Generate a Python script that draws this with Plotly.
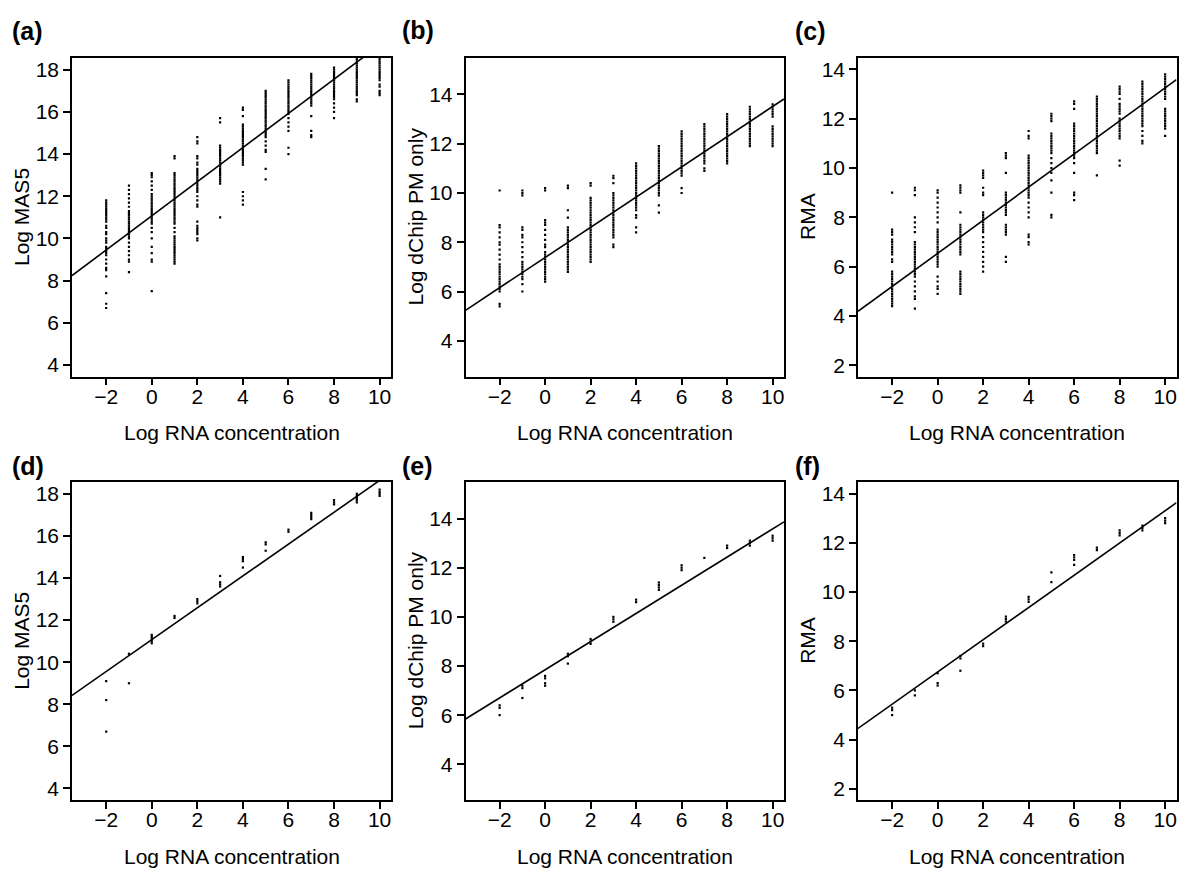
import plotly.graph_objects as go

# ---------------- data ----------------
conc = [-2, -1, 0, 1, 2, 3, 4, 5, 6, 7, 8, 9, 10]

# (a) all probe sets, Log MAS5
mas5_all = [
    [11.8, 11.7, 11.6, 11.5, 11.4, 11.3, 11.2, 11.1, 11.0, 10.9, 10.8, 10.6, 10.5, 10.3, 10.2, 10.0, 9.9, 9.8, 9.6, 9.5, 9.4, 9.3, 9.2, 9.0, 8.8, 8.6, 8.5, 8.2, 7.4, 6.9, 6.7],
    [12.5, 12.3, 12.1, 11.9, 11.7, 11.5, 11.3, 11.2, 11.1, 11.0, 10.9, 10.8, 10.7, 10.6, 10.5, 10.4, 10.3, 10.2, 10.1, 10.0, 9.8, 9.6, 9.4, 9.2, 9.0, 8.9, 8.4],
    [13.1, 13.0, 12.9, 12.7, 12.5, 12.3, 12.1, 12.0, 11.9, 11.8, 11.7, 11.6, 11.5, 11.4, 11.3, 11.2, 11.1, 11.0, 10.9, 10.8, 10.7, 10.5, 10.3, 10.0, 9.6, 9.3, 9.0, 8.9, 7.5],
    [13.9, 13.8, 13.1, 13.0, 12.9, 12.8, 12.7, 12.6, 12.5, 12.4, 12.3, 12.2, 12.1, 12.0, 11.9, 11.8, 11.7, 11.6, 11.5, 11.4, 11.3, 11.2, 11.1, 11.0, 10.9, 10.8, 10.7, 10.5, 10.3, 10.1, 10.0, 9.9, 9.8, 9.7, 9.6, 9.5, 9.4, 9.3, 9.2, 9.1, 9.0, 8.9, 8.8],
    [14.8, 14.6, 14.5, 13.9, 13.8, 13.6, 13.5, 13.3, 13.2, 13.1, 13.0, 12.9, 12.8, 12.7, 12.6, 12.5, 12.4, 12.3, 12.2, 12.0, 11.8, 11.6, 11.5, 10.8, 10.6, 10.5, 10.4, 10.3, 10.2, 10.0, 9.9],
    [15.7, 15.5, 14.4, 14.3, 14.2, 14.1, 14.0, 13.9, 13.8, 13.7, 13.6, 13.5, 13.4, 13.3, 13.2, 13.1, 13.0, 12.9, 12.8, 12.7, 12.6, 11.0],
    [16.2, 16.1, 15.8, 15.4, 15.3, 15.2, 15.1, 15.0, 14.9, 14.8, 14.7, 14.6, 14.5, 14.4, 14.3, 14.2, 14.1, 14.0, 13.9, 13.8, 13.7, 13.6, 13.5, 12.2, 12.0, 11.8, 11.6],
    [17.0, 16.9, 16.8, 16.7, 16.6, 16.5, 16.4, 16.3, 16.2, 16.1, 16.0, 15.9, 15.8, 15.7, 15.6, 15.5, 15.4, 15.3, 15.2, 15.1, 15.0, 14.9, 14.8, 14.6, 14.4, 14.2, 14.1, 13.3, 12.8],
    [17.5, 17.4, 17.3, 17.2, 17.1, 17.0, 16.9, 16.8, 16.7, 16.6, 16.5, 16.4, 16.3, 16.2, 16.1, 16.0, 15.9, 15.7, 15.5, 15.3, 15.1, 14.3, 14.0],
    [17.8, 17.7, 17.6, 17.5, 17.4, 17.3, 17.2, 17.1, 17.0, 16.9, 16.8, 16.7, 16.6, 16.5, 16.4, 16.3, 15.8, 15.1, 14.9, 14.8],
    [18.1, 18.0, 17.9, 17.8, 17.7, 17.6, 17.5, 17.4, 17.3, 17.2, 17.1, 17.0, 16.9, 16.8, 16.7, 16.6, 16.4, 16.2, 16.0, 15.7],
    [18.5, 18.4, 18.3, 18.2, 18.1, 18.0, 17.9, 17.8, 17.7, 17.6, 17.5, 17.4, 17.3, 17.2, 17.1, 17.0, 16.9, 16.8, 16.6, 16.5],
    [18.5, 18.4, 18.3, 18.2, 18.1, 18.0, 17.9, 17.8, 17.7, 17.6, 17.5, 17.3, 17.2, 17.0, 16.9, 16.8],
]

# (b) all probe sets, Log dChip PM only
dchip_all = [
    [10.1, 8.7, 8.6, 8.4, 8.2, 8.0, 7.9, 7.7, 7.5, 7.3, 7.1, 7.0, 6.9, 6.8, 6.7, 6.6, 6.5, 6.4, 6.3, 6.2, 6.1, 6.0, 5.5, 5.4],
    [10.1, 10.0, 9.9, 8.6, 8.5, 8.3, 8.2, 8.0, 7.8, 7.6, 7.4, 7.2, 7.1, 7.0, 6.9, 6.8, 6.7, 6.6, 6.5, 6.3, 6.0],
    [10.2, 10.1, 8.9, 8.8, 8.7, 8.5, 8.3, 8.1, 7.9, 7.8, 7.6, 7.5, 7.4, 7.3, 7.2, 7.1, 7.0, 6.9, 6.8, 6.7, 6.6, 6.5, 6.4],
    [10.3, 10.2, 9.3, 9.0, 8.6, 8.5, 8.4, 8.3, 8.2, 8.1, 8.0, 7.9, 7.8, 7.7, 7.6, 7.5, 7.4, 7.3, 7.2, 7.1, 7.0, 6.9, 6.8],
    [10.4, 10.3, 9.8, 9.7, 9.6, 9.5, 9.4, 9.3, 9.2, 9.1, 9.0, 8.9, 8.8, 8.7, 8.6, 8.5, 8.4, 8.3, 8.2, 8.1, 8.0, 7.9, 7.8, 7.7, 7.6, 7.5, 7.4, 7.3, 7.2],
    [10.7, 10.6, 10.4, 10.0, 9.9, 9.8, 9.7, 9.6, 9.5, 9.4, 9.3, 9.2, 9.1, 9.0, 8.9, 8.8, 8.7, 8.6, 8.5, 8.4, 8.3, 8.2, 7.9, 7.8],
    [11.2, 11.1, 11.0, 10.9, 10.8, 10.7, 10.6, 10.5, 10.4, 10.3, 10.2, 10.1, 10.0, 9.9, 9.8, 9.7, 9.6, 9.5, 9.4, 9.3, 9.1, 9.0, 8.6, 8.4],
    [11.9, 11.8, 11.7, 11.6, 11.5, 11.4, 11.3, 11.2, 11.1, 11.0, 10.9, 10.8, 10.7, 10.6, 10.5, 10.4, 10.3, 10.2, 10.1, 10.0, 9.9, 9.5, 9.2],
    [12.5, 12.4, 12.3, 12.2, 12.1, 12.0, 11.9, 11.8, 11.7, 11.6, 11.5, 11.4, 11.3, 11.2, 11.1, 11.0, 10.9, 10.8, 10.7, 10.2, 10.0],
    [12.8, 12.7, 12.6, 12.5, 12.4, 12.3, 12.2, 12.1, 12.0, 11.9, 11.8, 11.7, 11.6, 11.5, 11.4, 11.3, 11.2, 11.0, 10.9],
    [13.2, 13.1, 13.0, 12.9, 12.8, 12.7, 12.6, 12.5, 12.4, 12.3, 12.2, 12.1, 12.0, 11.9, 11.8, 11.7, 11.6, 11.5, 11.4, 11.3, 11.2],
    [13.5, 13.4, 13.3, 13.2, 13.1, 13.0, 12.9, 12.8, 12.7, 12.6, 12.5, 12.4, 12.3, 12.2, 12.1, 12.0, 11.9],
    [13.6, 13.5, 13.4, 13.3, 13.2, 13.1, 12.7, 12.6, 12.5, 12.4, 12.3, 12.2, 12.1, 12.0, 11.9],
]

# (c) all probe sets, RMA
rma_all = [
    [9.0, 7.5, 7.4, 7.3, 7.1, 7.0, 6.9, 6.8, 6.7, 6.6, 6.5, 6.3, 6.2, 5.8, 5.7, 5.6, 5.5, 5.4, 5.3, 5.2, 5.1, 5.0, 4.9, 4.8, 4.7, 4.6, 4.5, 4.4],
    [9.2, 9.1, 8.9, 8.0, 7.8, 7.6, 7.4, 7.0, 6.9, 6.8, 6.7, 6.6, 6.5, 6.4, 6.3, 6.2, 6.1, 6.0, 5.9, 5.8, 5.7, 5.6, 5.4, 5.2, 5.0, 4.8, 4.7, 4.3],
    [9.1, 9.0, 8.8, 8.6, 8.4, 8.2, 8.0, 7.8, 7.5, 7.4, 7.3, 7.2, 7.1, 7.0, 6.9, 6.8, 6.7, 6.6, 6.5, 6.4, 6.3, 6.2, 6.1, 6.0, 5.6, 5.4, 5.2, 5.1, 4.9],
    [9.3, 9.2, 9.1, 9.0, 8.2, 7.7, 7.6, 7.5, 7.4, 7.3, 7.2, 7.1, 7.0, 6.9, 6.8, 6.7, 6.6, 6.5, 5.8, 5.7, 5.6, 5.5, 5.4, 5.3, 5.2, 5.1, 5.0, 4.9],
    [9.9, 9.8, 9.7, 9.6, 9.2, 9.0, 8.9, 8.2, 8.1, 8.0, 7.9, 7.8, 7.7, 7.6, 7.5, 7.4, 7.2, 7.0, 6.8, 6.6, 6.4, 6.2, 6.0, 5.8],
    [10.6, 10.5, 10.4, 9.8, 9.0, 8.9, 8.8, 8.7, 8.6, 8.5, 8.4, 8.3, 8.2, 8.1, 7.7, 7.6, 7.5, 7.4, 7.3, 6.4, 6.2],
    [11.5, 11.3, 11.2, 10.5, 10.4, 10.3, 10.2, 10.1, 10.0, 9.9, 9.8, 9.7, 9.6, 9.5, 9.4, 9.3, 9.2, 9.1, 9.0, 8.9, 8.8, 8.6, 8.4, 8.2, 8.0, 7.3, 7.2, 7.0, 6.9],
    [12.2, 12.1, 12.0, 11.9, 11.4, 11.3, 11.2, 11.1, 11.0, 10.9, 10.8, 10.7, 10.6, 10.4, 10.2, 10.0, 9.8, 9.5, 9.0, 8.1, 8.0],
    [12.7, 12.6, 12.4, 11.8, 11.7, 11.6, 11.5, 11.4, 11.3, 11.2, 11.1, 11.0, 10.9, 10.8, 10.7, 10.6, 10.5, 10.4, 10.2, 9.8, 9.0, 8.9, 8.7],
    [12.9, 12.8, 12.7, 12.6, 12.5, 12.4, 12.3, 12.2, 12.1, 12.0, 11.9, 11.8, 11.7, 11.6, 11.5, 11.4, 11.3, 11.2, 11.1, 11.0, 10.9, 10.8, 10.7, 10.6, 9.7],
    [13.3, 13.2, 13.1, 13.0, 12.8, 12.6, 12.5, 12.4, 12.3, 12.2, 12.0, 11.9, 11.8, 11.7, 11.6, 11.5, 11.4, 11.3, 11.2, 10.3, 10.1],
    [13.5, 13.4, 13.3, 13.2, 13.1, 13.0, 12.9, 12.8, 12.7, 12.6, 12.5, 12.4, 12.3, 12.2, 12.1, 12.0, 11.9, 11.8, 11.7, 11.5, 11.3, 11.1, 11.0],
    [13.8, 13.7, 13.6, 13.5, 13.4, 13.3, 13.2, 13.1, 13.0, 12.9, 12.8, 12.4, 12.3, 12.2, 12.1, 12.0, 11.9, 11.8, 11.7, 11.6, 11.3],
]

# (d) selected probe sets, Log MAS5
mas5_sel = [
    [9.1, 8.2, 6.7], [10.4, 9.0], [11.3, 11.2, 11.1, 11.0, 10.9], [12.2, 12.1],
    [13.0, 12.9, 12.8], [14.1, 13.8, 13.7, 13.6], [15.0, 14.9, 14.8, 14.5],
    [15.7, 15.6, 15.3], [16.3, 16.2], [17.1, 17.0, 16.9, 16.8],
    [17.7, 17.6, 17.5], [18.0, 17.9, 17.8, 17.7, 17.6], [18.2, 18.1, 18.0, 17.9],
]

# (e) selected probe sets, Log dChip PM only
dchip_sel = [
    [6.4, 6.3, 6.0], [7.2, 7.1, 6.7], [7.6, 7.5, 7.3, 7.2], [8.5, 8.4, 8.1],
    [9.1, 9.0, 8.9], [10.0, 9.9, 9.8], [10.7, 10.6], [11.4, 11.3, 11.2, 11.1],
    [12.1, 12.0, 11.9], [12.4], [12.9, 12.8], [13.1, 13.0, 12.9], [13.3, 13.2, 13.1],
]

# (f) selected probe sets, RMA
rma_sel = [
    [5.3, 5.2, 5.0], [6.0, 5.8], [6.7, 6.3, 6.2], [7.4, 7.3, 6.8],
    [7.9, 7.8], [9.0, 8.9, 8.8], [9.8, 9.7, 9.6], [10.8, 10.4],
    [11.5, 11.4, 11.3, 11.1], [11.8, 11.7], [12.5, 12.4, 12.3], [12.7, 12.6, 12.5],
    [13.0, 12.9, 12.8],
]

# fitted regression lines (intercept, slope) per panel
fit_intercept = [11.07, 7.38, 6.54, 11.07, 7.85, 6.75]
fit_slope = [0.81, 0.613, 0.671, 0.757, 0.573, 0.655]

panel_labels = ["(a)", "(b)", "(c)", "(d)", "(e)", "(f)"]
y_titles = ["Log MAS5", "Log dChip PM only", "RMA", "Log MAS5", "Log dChip PM only", "RMA"]
x_title = "Log RNA concentration"
x_ticks = [-2, 0, 2, 4, 6, 8, 10]
y_ticks = [[4, 6, 8, 10, 12, 14, 16, 18], [4, 6, 8, 10, 12, 14], [2, 4, 6, 8, 10, 12, 14]] * 2

# ---------------- layout ----------------
W, H = 1200, 893
x_range = [-3.5, 10.5]
y_ranges = [[3.45, 18.58], [2.55, 15.5], [1.55, 14.48]] * 2
x_doms = [[72 / W, 391 / W], [465.5 / W, 784 / W], [858 / W, 1176.5 / W]]
y_doms = [[1 - 376.5 / H, 1 - 57.5 / H], [1 - 800 / H, 1 - 481.7 / H]]
label_pos = [(10, 31), (400, 30), (793, 31), (10, 466), (400, 466), (793, 466)]

panels = [mas5_all, dchip_all, rma_all, mas5_sel, dchip_sel, rma_sel]

FONT = "Liberation Sans, Arial, sans-serif"
fig = go.Figure()
annotations = []

for i, pdata in enumerate(panels):
    n = i + 1
    xa = "x" if n == 1 else f"x{n}"
    ya = "y" if n == 1 else f"y{n}"
    xs, ys = [], []
    for c, col in zip(conc, pdata):
        xs.extend([c] * len(col))
        ys.extend(col)
    fig.add_trace(go.Scatter(
        x=xs, y=ys, mode="markers", xaxis=xa, yaxis=ya,
        marker=dict(symbol="square", size=2.2, color="black", line=dict(width=0)),
        showlegend=False, hoverinfo="x+y"))
    fx = list(x_range)
    fy = [fit_intercept[i] + fit_slope[i] * v for v in fx]
    fig.add_trace(go.Scatter(
        x=fx, y=fy, mode="lines", xaxis=xa, yaxis=ya,
        line=dict(color="black", width=1.6), showlegend=False, hoverinfo="skip"))

    r, c = divmod(i, 3)
    axis_common = dict(
        showline=True, linecolor="black", linewidth=1.6, mirror=True,
        ticks="outside", ticklen=7, tickwidth=1.5, tickcolor="black",
        showgrid=False, zeroline=False,
        tickfont=dict(family=FONT, size=21, color="black"),
    )
    fig.update_layout(**{
        ("xaxis" if n == 1 else f"xaxis{n}"): dict(
            domain=x_doms[c], range=x_range, anchor=ya,
            tickmode="array", tickvals=x_ticks, ticklabelstandoff=-7, **axis_common),
        ("yaxis" if n == 1 else f"yaxis{n}"): dict(
            domain=y_doms[r], range=y_ranges[i], anchor=xa,
            tickmode="array", tickvals=y_ticks[i], **axis_common),
    })
    # axis titles
    annotations.append(dict(
        text=x_title, xref=f"{xa} domain", yref=f"{ya} domain",
        x=0.5, y=0, xanchor="center", yanchor="middle", yshift=-56,
        showarrow=False, font=dict(family=FONT, size=21, color="black")))
    annotations.append(dict(
        text=y_titles[i], xref=f"{xa} domain", yref=f"{ya} domain",
        x=0, y=0.5, xanchor="center", yanchor="middle", xshift=-50, textangle=-90,
        showarrow=False, font=dict(family=FONT, size=21, color="black")))
    # panel label
    lx, ly = label_pos[i]
    annotations.append(dict(
        text=f"<b>{panel_labels[i]}</b>", xref="paper", yref="paper",
        x=lx / W, y=1 - ly / H, xanchor="left", yanchor="middle",
        showarrow=False, font=dict(family=FONT, size=25, color="black")))

fig.update_layout(
    width=W, height=H, margin=dict(l=0, r=0, t=0, b=0),
    paper_bgcolor="white", plot_bgcolor="white",
    annotations=annotations, font=dict(family=FONT, color="black"),
)

fig.write_html("out.html", config={"displayModeBar": False},
               post_script="document.body.style.margin='0';")
